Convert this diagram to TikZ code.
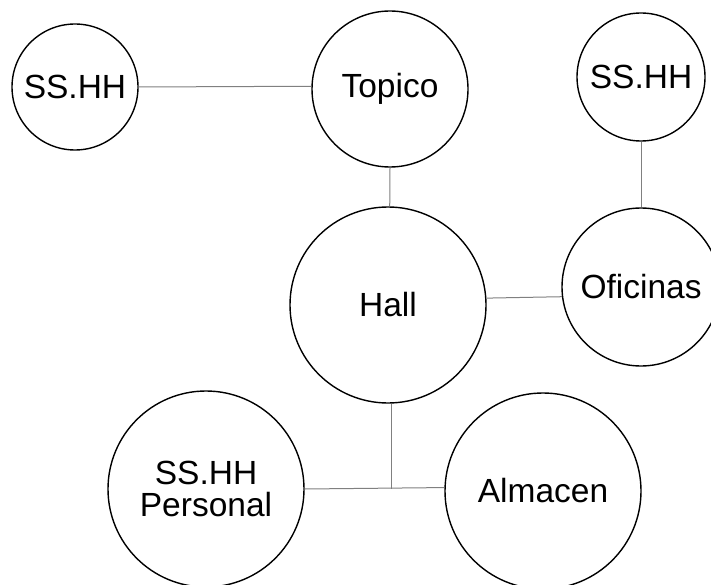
\documentclass[tikz,border=0pt]{standalone}
\usepackage{fontspec}
\setmainfont{Liberation Sans}
\usepackage{tikz}

\begin{document}
\begin{tikzpicture}[x=1pt,y=-1pt,
  room/.style={draw,circle,line width=1.4pt,inner sep=0pt,align=center,
    font=\fontsize{33.5}{32}\selectfont},
  link/.style={draw=black!50,line width=1pt}]
\useasboundingbox (0,0) rectangle (711,585);
\node [room,minimum size=126pt,at={(75,87)}] (banoA) {SS.HH};
\node [room,minimum size=156pt,at={(390,89)}] (topico) {Topico};
\node [room,minimum size=128pt,at={(641,77)}] (banoB) {SS.HH};
\node [room,minimum size=196pt,at={(388,305)}] (hall) {Hall};
\node [room,minimum size=158pt,at={(641,287)}] (oficinas) {Oficinas};
\node [room,minimum size=196pt,at={(206,489)}] (personal) {SS.HH\\Personal};
\node [room,minimum size=196pt,at={(543,491)}] (almacen) {Almacen};
\coordinate (cruce) at (hall.-88 |- personal.east);

\draw [link] (banoA.east) -- (topico.178.5);
\draw [link] (topico.south) -- (hall.89);
\draw [link] (banoB.south) -- (oficinas.north);
\draw [link] (hall.4.7) -- (oficinas.187.3);
\draw [link] (hall.-88) -- (cruce);
\draw [link] (personal.east) -- (almacen.178.8);
\end{tikzpicture}
\end{document}
